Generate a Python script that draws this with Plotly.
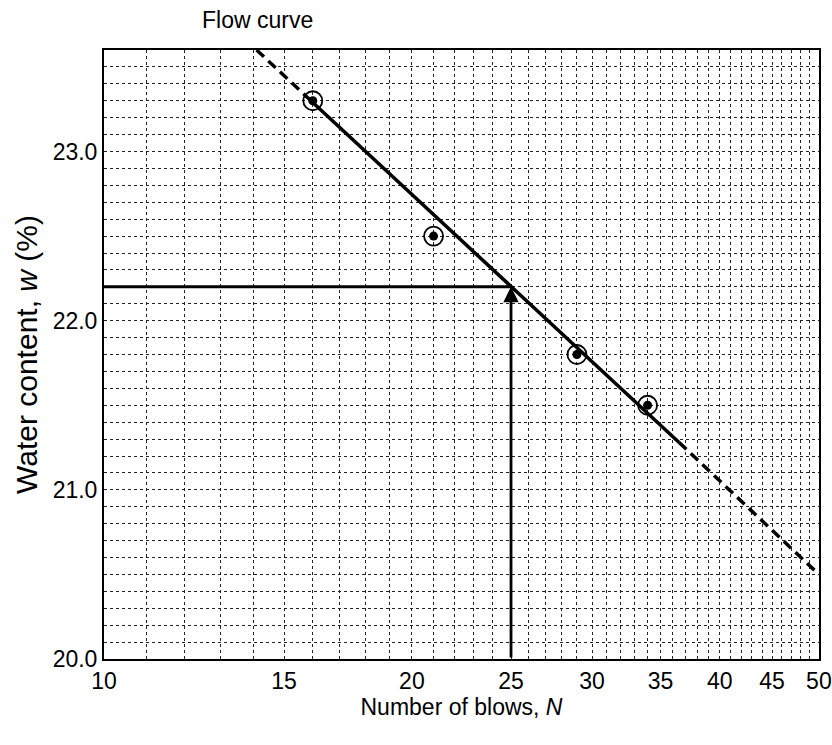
import numpy as np
import plotly.graph_objects as go

# ---- data ----
blows = [16, 21, 29, 34]
water = [23.3, 22.5, 21.8, 21.5]

upper_dash_N = [14.1, 16]
upper_dash_w = [23.6, 23.29]
solid_N = [16, 36.5]
solid_w = [23.29, 21.28]
lower_dash_N = [36.5, 50]
lower_dash_w = [21.28, 20.5]

ll_N = 25
ll_w = 22.2

x_ticks = [10, 15, 20, 25, 30, 35, 40, 45, 50]
x_grid = list(range(10, 51))
y_ticks = [20.0, 21.0, 22.0, 23.0]

FONT = "Liberation Sans, Arial, sans-serif"
GRID = "#222222"

W, H = 832, 745
L, R, T, B = 104, 13, 50, 86
PW, PH = W - L - R, H - T - B

fig = go.Figure()

fig.add_trace(go.Scatter(x=upper_dash_N, y=upper_dash_w, mode="lines",
                         line=dict(color="black", width=3.5, dash="10px,6px"),
                         showlegend=False, hoverinfo="skip"))
fig.add_trace(go.Scatter(x=solid_N, y=solid_w, mode="lines",
                         line=dict(color="black", width=3.5),
                         showlegend=False, hoverinfo="skip"))
fig.add_trace(go.Scatter(x=lower_dash_N, y=lower_dash_w, mode="lines",
                         line=dict(color="black", width=3.5, dash="10px,6px"),
                         showlegend=False, hoverinfo="skip"))
# liquid limit horizontal line
fig.add_trace(go.Scatter(x=[x_ticks[0], ll_N], y=[ll_w, ll_w], mode="lines",
                         line=dict(color="black", width=3),
                         showlegend=False, hoverinfo="skip"))
# data points: open circles with filled dots
fig.add_trace(go.Scatter(x=blows, y=water, mode="markers",
                         marker=dict(symbol="circle-open", size=19,
                                     color="black", line=dict(width=1.8)),
                         showlegend=False))
fig.add_trace(go.Scatter(x=blows, y=water, mode="markers",
                         marker=dict(symbol="circle", size=9, color="black"),
                         showlegend=False))

# vertical arrow at N = 25
fig.add_annotation(x=np.log10(ll_N), y=ll_w, ax=np.log10(ll_N), ay=y_ticks[0],
                   xref="x", yref="y", axref="x", ayref="y",
                   showarrow=True, arrowhead=2, arrowsize=1.1,
                   arrowwidth=2.8, arrowcolor="black", text="")

# chart title
fig.add_annotation(text="Flow curve", xref="paper", yref="paper",
                   x=(200 - L) / PW, y=1 + (T - 20) / PH,
                   xanchor="left", yanchor="middle", showarrow=False,
                   font=dict(family=FONT, size=23, color="black"))

fig.update_layout(
    width=W, height=H,
    margin=dict(l=L, r=R, t=T, b=B, autoexpand=False),
    paper_bgcolor="white", plot_bgcolor="white",
    font=dict(family=FONT, size=23, color="black"),
    xaxis=dict(
        type="log", range=[1, np.log10(50.01)],
        tickvals=x_grid,
        ticktext=[str(v) if v in x_ticks else "" for v in x_grid],
        ticklabeloverflow="allow",
        ticks="", showgrid=True, gridcolor=GRID, gridwidth=1, griddash="dot",
        showline=True, linecolor="black", linewidth=2, mirror=True,
        zeroline=False, automargin=False,
        title=dict(text="Number of blows, <i>N</i>", standoff=4,
                   font=dict(family=FONT, size=23)),
        tickfont=dict(family=FONT, size=23),
    ),
    yaxis=dict(
        range=[20.0, 23.6],
        tickvals=y_ticks, tickformat=".1f",
        ticks="", showgrid=True, gridcolor=GRID, gridwidth=1, griddash="dot",
        minor=dict(dtick=0.1, showgrid=True, gridcolor=GRID,
                   gridwidth=1, griddash="dot", ticks=""),
        showline=True, linecolor="black", linewidth=2, mirror=True,
        zeroline=False, automargin=False,
        title=dict(text="Water content, <i>w</i> (%)", standoff=6,
                   font=dict(family=FONT, size=30)),
        tickfont=dict(family=FONT, size=23),
    ),
)

fig.write_html(
    "out.html",
    config={"displayModeBar": False},
    post_script="document.body.style.margin='0';"
                "document.body.style.overflow='hidden';",
)
